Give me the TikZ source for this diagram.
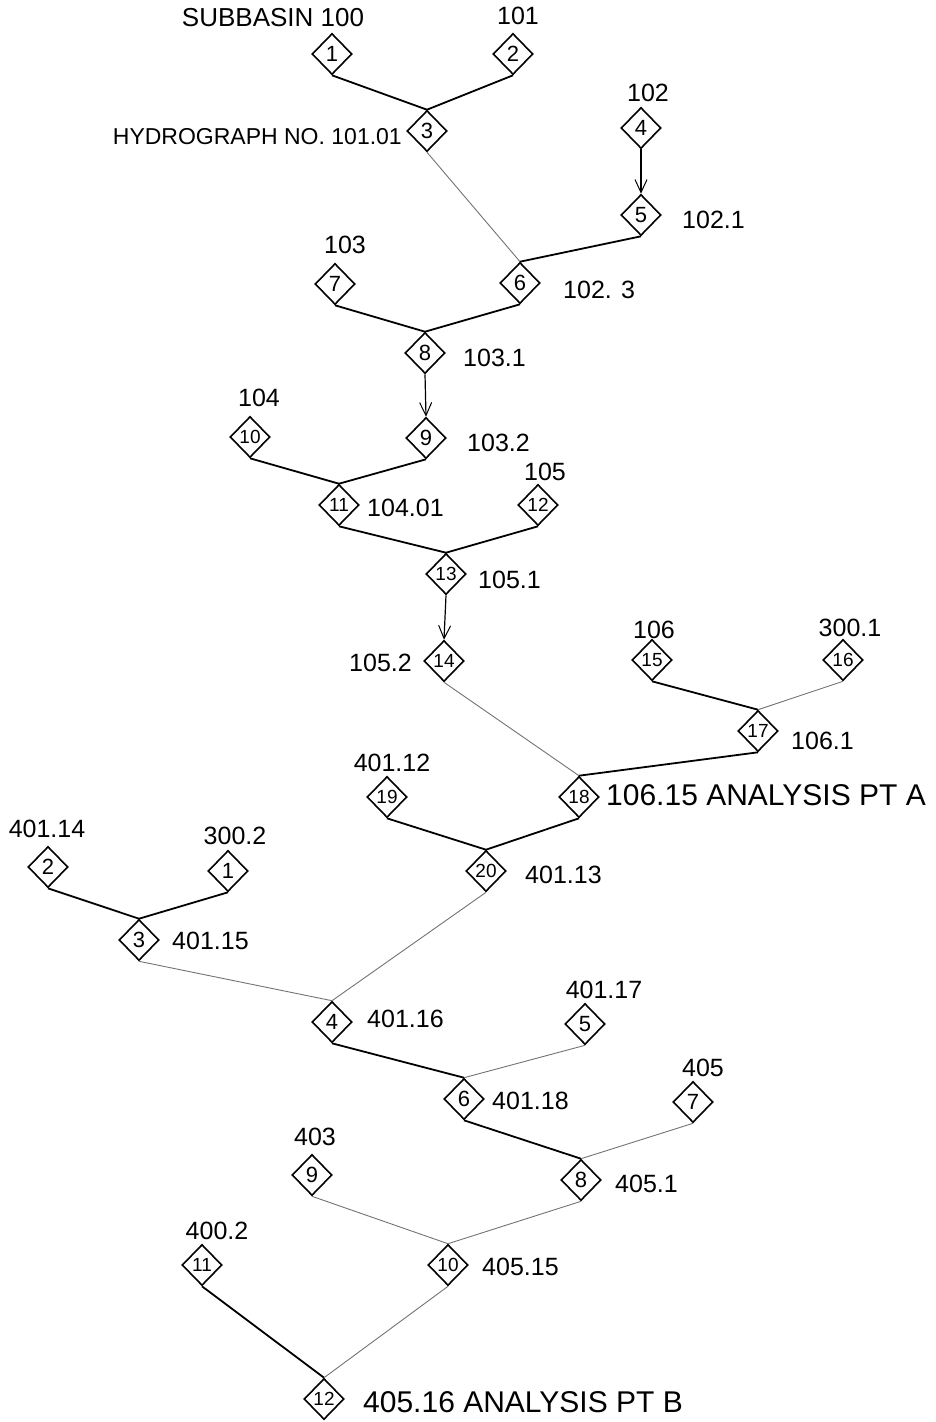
\documentclass[tikz,border=0pt]{standalone}
\usepackage{fontspec}
\setmainfont{Liberation Sans}
\usetikzlibrary{shapes.geometric,arrows.meta}
\tikzset{
  dia/.style={diamond,draw,line width=1.6pt,minimum width=40pt,minimum height=41pt,inner sep=0pt,font=\fontsize{22}{22}\selectfont},
  dia2/.style={dia,font=\fontsize{19}{19}\selectfont},
  lab/.style={inner sep=0pt,font=\fontsize{25}{25}\selectfont},
  biglab/.style={inner sep=0pt,font=\fontsize{30}{30}\selectfont},
  thick edge/.style={line width=1.8pt},
  thin edge/.style={line width=0.9pt,black!55},
  flow/.style={line width=1.2pt,-{Straight Barb[length=13pt,width=12pt,line width=1pt]}}
}
\begin{document}
\begin{tikzpicture}[x=1pt,y=-1pt]
\useasboundingbox (0,0) rectangle (936,1422);
% upper tree
\node[dia] (a1) at (332,54) {1};
\node[dia] (a2) at (513,54) {2};
\node[dia] (a3) at (427,131) {3};
\node[dia] (a4) at (641,128) {4};
\node[dia] (a5) at (641,215) {5};
\node[dia] (a6) at (520,283) {6};
\node[dia] (a7) at (335,284) {7};
\node[dia] (a8) at (425,353) {8};
\node[dia] (a9) at (426,438) {9};
\node[dia2] (a10) at (250,437) {10};
\node[dia2] (a11) at (339,505) {11};
\node[dia2] (a12) at (538,505) {12};
\node[dia2] (a13) at (446,574) {13};
\node[dia2] (a14) at (444,661) {14};
\node[dia2] (a15) at (652,660) {15};
\node[dia2] (a16) at (843,660) {16};
\node[dia2] (a17) at (758,731) {17};
\node[dia2] (a18) at (579,797) {18};
\node[dia2] (a19) at (387,797) {19};
\node[dia2] (a20) at (486,871) {20};
% lower tree
\node[dia] (b2) at (48,867) {2};
\node[dia] (b1) at (228,871) {1};
\node[dia] (b3) at (139,940) {3};
\node[dia] (b4) at (332,1022) {4};
\node[dia] (b5) at (585,1024) {5};
\node[dia] (b6) at (464,1099) {6};
\node[dia] (b7) at (693,1102) {7};
\node[dia] (b8) at (581,1180) {8};
\node[dia] (b9) at (312,1175) {9};
\node[dia2] (b10) at (448,1265) {10};
\node[dia2] (b11) at (202,1265) {11};
\node[dia2] (b12) at (324,1399) {12};
% labels
\node[lab,font=\fontsize{26}{26}\selectfont] (la1) at (273,18) {SUBBASIN 100};
\node[lab] (la2) at (518,16) {101};
\node[lab,anchor=east,font=\fontsize{23}{23}\selectfont] (la3) at (402,137) {HYDROGRAPH NO. 101.01};
\node[lab] (la4) at (648,93) {102};
\node[lab,anchor=west] (la5) at (682,220) {102.1};
\node[lab,anchor=west] (la6) at (563,290) {102. 3};
\node[lab] (la7) at (345,245) {103};
\node[lab,anchor=west] (la8) at (463,358) {103.1};
\node[lab,anchor=west] (la9) at (467,443) {103.2};
\node[lab] (la10) at (259,398) {104};
\node[lab,anchor=west] (la11) at (367,508) {104.01};
\node[lab] (la12) at (545,472) {105};
\node[lab,anchor=west] (la13) at (478,580) {105.1};
\node[lab,anchor=east] (la14) at (412,663) {105.2};
\node[lab] (la15) at (654,630) {106};
\node[lab] (la16) at (850,628) {300.1};
\node[lab,anchor=west] (la17) at (791,741) {106.1};
\node[biglab,anchor=west] (la18) at (606,795) {106.15 ANALYSIS PT A};
\node[lab] (la19) at (392,763) {401.12};
\node[lab,anchor=west] (la20) at (525,875) {401.13};
\node[lab] (lb2) at (47,829) {401.14};
\node[lab] (lb1) at (235,836) {300.2};
\node[lab,anchor=west] (lb3) at (172,941) {401.15};
\node[lab,anchor=west] (lb4) at (367,1019) {401.16};
\node[lab] (lb5) at (604,990) {401.17};
\node[lab,anchor=west] (lb6) at (492,1101) {401.18};
\node[lab] (lb7) at (703,1068) {405};
\node[lab,anchor=west] (lb8) at (615,1184) {405.1};
\node[lab] (lb9) at (315,1137) {403};
\node[lab,anchor=west] (lb10) at (482,1267) {405.15};
\node[lab] (lb11) at (217,1231) {400.2};
\node[biglab,anchor=west] (lb12) at (363,1402) {405.16 ANALYSIS PT B};
% connectors upper
\draw[thick edge] (a1.south) -- (a3.north);
\draw[thick edge] (a2.south) -- (a3.north);
\draw[thin edge] (a3.south) -- (a6.north);
\draw[flow] (a4.south) -- (a5.north);
\draw[thick edge] (a5.south) -- (a6.north);
\draw[thick edge] (a7.south) -- (a8.north);
\draw[thick edge] (a6.south) -- (a8.north);
\draw[flow] (a8.south) -- (a9.north);
\draw[thick edge] (a10.south) -- (a11.north);
\draw[thick edge] (a9.south) -- (a11.north);
\draw[thick edge] (a11.south) -- (a13.north);
\draw[thick edge] (a12.south) -- (a13.north);
\draw[flow] (a13.south) -- (a14.north);
\draw[thin edge] (a14.south) -- (a18.north);
\draw[thick edge] (a15.south) -- (a17.north);
\draw[thin edge] (a16.south) -- (a17.north);
\draw[thick edge] (a17.south) -- (a18.north);
\draw[thick edge] (a19.south) -- (a20.north);
\draw[thick edge] (a18.south) -- (a20.north);
% connectors lower
\draw[thick edge] (b2.south) -- (b3.north);
\draw[thick edge] (b1.south) -- (b3.north);
\draw[thin edge] (b3.south) -- (b4.north);
\draw[thin edge] (a20.south) -- (b4.north);
\draw[thick edge] (b4.south) -- (b6.north);
\draw[thin edge] (b5.south) -- (b6.north);
\draw[thick edge] (b6.south) -- (b8.north);
\draw[thin edge] (b7.south) -- (b8.north);
\draw[thin edge] (b9.south) -- (b10.north);
\draw[thin edge] (b8.south) -- (b10.north);
\draw[thick edge] (b11.south) -- (b12.north);
\draw[thin edge] (b10.south) -- (b12.north);
\end{tikzpicture}
\end{document}
